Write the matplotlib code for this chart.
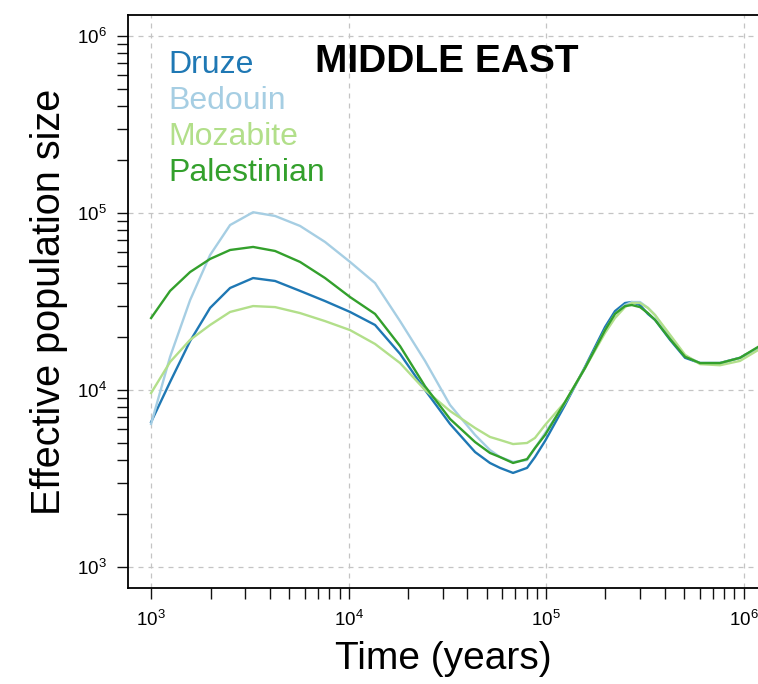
import matplotlib
matplotlib.use("Agg")
from matplotlib import pyplot as plt
from matplotlib.ticker import FixedLocator, NullFormatter

plt.rcParams['font.family'] = ['Liberation Sans', 'DejaVu Sans']

# time in years (shared by all populations)
years = [1000, 1248, 1576, 1990, 2512, 3285, 4246, 5681, 7603, 10177,
         13620, 18230, 24390, 32650, 43730, 52000, 58480, 68070, 80150, 87900, 98850,
         124800, 157500, 199000, 223400, 251200, 272000, 299200, 328000, 356500, 424600, 505800,
         602500, 760300, 959600, 1184000]

druze = [6590, 11100, 18900, 29100, 37700, 42900, 41300, 36300, 31800, 27600,
         23300, 16000, 10000, 6430, 4460, 3870, 3630, 3400, 3630, 4180, 5150,
         8230, 13500, 22700, 27900, 31000, 31400, 30200, 26900, 24900, 19200, 15200,
         14200, 14200, 15200, 17300]

bedouin = [6430, 15400, 32200, 57900, 85500, 101000, 96200, 84500, 68600, 52900,
           40200, 24500, 14600, 8230, 5570, 4580, 4180, 3920, 4020, 4700, 5710,
           8450, 13300, 21800, 26900, 30200, 31400, 31400, 29100, 26500, 19900, 15600,
           14200, 14200, 15200, 17300]

mozabite = [9610, 14400, 19200, 23300, 27600, 29800, 29400, 27200, 24500, 21800,
            18200, 14200, 10000, 7610, 6100, 5430, 5220, 4950, 5020, 5360, 6340,
            8550, 13300, 21000, 25500, 29400, 31000, 31000, 29100, 26500, 20500, 15800,
            14000, 13800, 14600, 16800]

palestinian = [25500, 36300, 46400, 55000, 61800, 64300, 61000, 52900, 42900, 33500,
               26900, 17700, 10500, 6860, 5080, 4410, 4180, 3870, 4070, 4700, 5570,
               8550, 13300, 21800, 26900, 29800, 30200, 29400, 27200, 24900, 19400, 15400,
               14200, 14200, 15200, 17500]

names = ['Druze', 'Bedouin', 'Mozabite', 'Palestinian']
series = [druze, bedouin, mozabite, palestinian]
colors = ['#1f78b4', '#a6cee3', '#b2df8a', '#33a02c']

major_ticks = [1e3, 1e4, 1e5, 1e6]
x_minor = [k * 10 ** e for e in (3, 4, 5) for k in range(2, 10)]
y_minor = [k * 10 ** e for e in (3, 4, 5) for k in range(2, 10)]

fig = plt.figure(figsize=(7.58, 6.84), dpi=100)
ax = fig.add_axes([128 / 758, 96 / 684, 630 / 758, 573 / 684])

for name, values, color in zip(names, series, colors):
    ax.plot(years, values, color=color, linewidth=1.7, solid_joinstyle='round')

ax.set_xscale('log')
ax.set_yscale('log')
ax.set_xlim(764, 1.184e6)
ax.set_ylim(761, 1.314e6)

ax.xaxis.set_major_locator(FixedLocator(major_ticks))
ax.yaxis.set_major_locator(FixedLocator(major_ticks))
ax.xaxis.set_minor_locator(FixedLocator(x_minor))
ax.yaxis.set_minor_locator(FixedLocator(y_minor))
ax.xaxis.set_minor_formatter(NullFormatter())
ax.yaxis.set_minor_formatter(NullFormatter())

ax.tick_params(which='both', direction='out', length=8, width=1, labelsize=13.5, color='#111111')
ax.tick_params(axis='x', pad=8)
ax.tick_params(axis='y', pad=7.5)

ax.grid(True, which='major', color='#c4c4c4', linestyle=(0, (4, 4)), linewidth=0.9)
ax.set_axisbelow(True)

ax.spines['right'].set_visible(False)
for side in ['left', 'top', 'bottom']:
    ax.spines[side].set_linewidth(1.3)

ax.set_xlabel('Time (years)', fontsize=28, labelpad=8)
ax.set_ylabel('Effective population size', fontsize=28.5, labelpad=6)

# population names as coloured text instead of a legend box
for i, (name, color) in enumerate(zip(names, colors)):
    ax.text(0.0635, 0.912 - i * 0.0628, name, color=color, fontsize=23,
            transform=ax.transAxes, ha='left', va='center')

ax.text(0.5056, 0.918, 'MIDDLE EAST', fontsize=28, fontweight='bold',
        transform=ax.transAxes, ha='center', va='center')

plt.savefig('out.png', dpi=100)
